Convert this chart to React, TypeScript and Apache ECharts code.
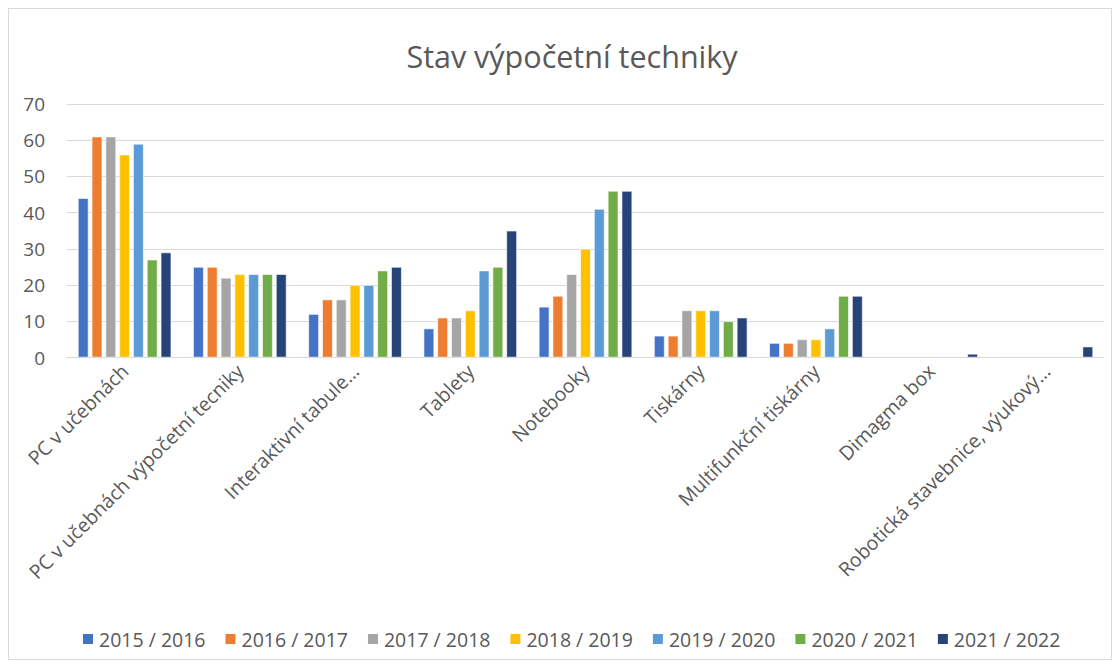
import React, { useEffect, useRef } from "react";
import * as echarts from "echarts";

const categories = [
  "PC v učebnách",
  "PC v učebnách výpočetní tecniky",
  "Interaktivní tabule…",
  "Tablety",
  "Notebooky",
  "Tiskárny",
  "Multifunkční tiskárny",
  "Dimagma box",
  "Robotická stavebnice, výukový…",
];

const seriesNames = [
  "2015 / 2016",
  "2016 / 2017",
  "2017 / 2018",
  "2018 / 2019",
  "2019 / 2020",
  "2020 / 2021",
  "2021 / 2022",
];

const y2015 = [44, 25, 12, 8, 14, 6, 4, null, null];
const y2016 = [61, 25, 16, 11, 17, 6, 4, null, null];
const y2017 = [61, 22, 16, 11, 23, 13, 5, null, null];
const y2018 = [56, 23, 20, 13, 30, 13, 5, null, null];
const y2019 = [59, 23, 20, 24, 41, 13, 8, null, null];
const y2020 = [27, 23, 24, 25, 46, 10, 17, null, null];
const y2021 = [29, 23, 25, 35, 46, 11, 17, 1, 3];

const seriesValues = [y2015, y2016, y2017, y2018, y2019, y2020, y2021];
const colors = ["#4472C4", "#ED7D31", "#A5A5A5", "#FFC000", "#5B9BD5", "#70AD47", "#264478"];

const FONT = "'Open Sans', 'Liberation Sans', sans-serif";

export default function App() {
  const ref = useRef<HTMLDivElement>(null);
  useEffect(() => {
    if (!ref.current) return;
    const chart = echarts.init(ref.current, undefined, { renderer: "svg" });
    chart.setOption({
      animation: false,
      color: colors,
      title: {
        text: "Stav výpočetní techniky",
        left: 558,
        textAlign: "center",
        top: 26,
        textStyle: { fontFamily: FONT, fontSize: 30.5, fontWeight: "normal", color: "#595959" },
      },
      legend: {
        top: 615,
        left: 67,
        itemWidth: 12,
        itemHeight: 12,
        itemGap: 18,
        icon: "rect",
        textStyle: { fontFamily: FONT, fontSize: 19.5, color: "#595959" },
        data: seriesNames,
      },
      grid: { left: 58, right: 7, top: 95, bottom: 301.5, containLabel: false },
      xAxis: {
        type: "category",
        data: categories,
        axisLine: { lineStyle: { color: "#d9d9d9", width: 1 } },
        axisTick: { show: false },
        axisLabel: {
          rotate: 45,
          interval: 0,
          margin: 10,
          fontFamily: FONT,
          fontSize: 19.5,
          color: "#595959",
        },
      },
      yAxis: {
        type: "value",
        min: 0,
        max: 70,
        interval: 10,
        axisLine: { show: false },
        axisTick: { show: false },
        splitLine: { lineStyle: { color: "#d9d9d9", width: 1 } },
        axisLabel: { fontFamily: FONT, fontSize: 19, color: "#595959", margin: 22 },
      },
      series: seriesNames.map((name, i) => ({
        name,
        type: "bar",
        data: seriesValues[i],
        barGap: "31%",
        barCategoryGap: "19%",
        itemStyle: { color: colors[i], borderColor: "#ffffff", borderWidth: 0.6 },
      })),
    });
    return () => chart.dispose();
  }, []);
  return (
    <div
      ref={ref}
      style={{ width: 1102, height: 650, border: "1px solid #d9d9d9", background: "#fff" }}
    />
  );
}
